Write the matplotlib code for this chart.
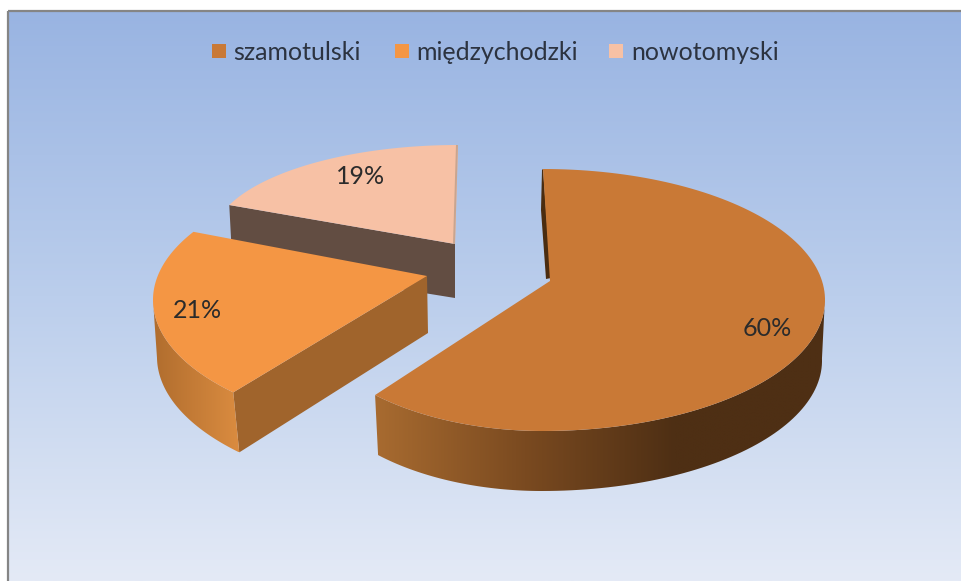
import numpy as np
import matplotlib
matplotlib.use("Agg")
import matplotlib.pyplot as plt
from matplotlib.colors import LinearSegmentedColormap
from matplotlib.patches import Polygon, Rectangle

plt.rcParams['font.family'] = ['Lato', 'DejaVu Sans']

names = ["szamotulski", "międzychodzki", "nowotomyski"]
values = [60, 21, 19]
top_colors = ["#C97936", "#F49644", "#F7C1A5"]

W, H = 962, 581
DEPTH = 60

fig = plt.figure(figsize=(W / 100, H / 100), dpi=100)
ax = fig.add_axes([0, 0, 1, 1])
ax.axis("off")


def fill_gradient(poly_pts, stops, x0, x1, vertical=False, zorder=1):
    # gradient image clipped to the polygon
    cmap = LinearSegmentedColormap.from_list("g", stops)
    grad = np.linspace(0, 1, 256)
    grad = grad.reshape(-1, 1) if vertical else grad.reshape(1, -1)
    patch = Polygon(poly_pts, closed=True, transform=ax.transData, fc="none", ec="none")
    ax.add_patch(patch)
    ys = poly_pts[:, 1]
    ax.imshow(grad, cmap=cmap, extent=[x0, x1, ys.max(), ys.min()], aspect="auto",
              clip_path=patch, zorder=zorder, interpolation="bilinear")


def arc(cx, cy, rx, ry, t0, t1, n=120):
    t = np.radians(np.linspace(t0, t1, n))
    return np.column_stack([cx + rx * np.sin(t), cy - ry * np.cos(t)])


def down(pts, d=DEPTH):
    return pts + np.array([0, d])


# background panel
bg = np.array([[9, 12], [W, 12], [W, H], [9, H]], dtype=float)
fill_gradient(bg, ["#99B4E2", "#BBCEEC", "#E4EAF6"], 9, W, vertical=True, zorder=0)
ax.add_patch(Rectangle((8, 11), W, H, fc="none", ec="#858585", lw=1.6, zorder=0.5))

# pie angles come from the shares
spans = [v * 3.6 for v in values]

# nowotomyski (back slice)
apex3 = np.array([455, 244])
rim3 = arc(458, 240, 246, 95, 360 - spans[2], 360)
side3 = np.array([rim3[0], apex3, apex3 + [0, 54], rim3[0] + [3, 57]])
ax.add_patch(Polygon(side3, fc="#624D42", ec="none", zorder=2))
ax.add_patch(Polygon(np.vstack([rim3, apex3]), fc=top_colors[2], ec="none", zorder=3))
ax.add_patch(Polygon([[458, 145], [455, 244], [453, 244], [456, 145]], fc="#C9A58F", ec="none", zorder=3.1))

# miedzychodzki (left slice)
apex2 = np.array([427, 276])
rim2 = arc(439, 300, 286, 133, 226, 226 + spans[1] * 0.99)
low2 = np.array([rim2[0], apex2, apex2 + [1, 57], rim2[0] + [6, 60]])
ax.add_patch(Polygon(low2, fc="#A0642C", ec="none", zorder=4))
wall2 = rim2[rim2[:, 0] <= rim2[0, 0]]
wall2 = wall2[: int(np.argmin(wall2[:, 0])) + 1]
wall2_low = down(wall2, 58) + np.linspace([6, 2], [4, 0], len(wall2))
fill_gradient(np.vstack([wall2, wall2_low[::-1]]), ["#B06D2E", "#DB8C40"], 153, 240, zorder=4)
ax.add_patch(Polygon(np.vstack([rim2, apex2]), fc=top_colors[1], ec="none", zorder=5))

# szamotulski (front slice), left part of the rim is flatter in the reference
apex1 = np.array([550, 281])
rim1 = np.vstack([arc(543, 300, 282, 131, 0, 180),
                  arc(543, 300, 244, 131, 180, 180 + (spans[0] - 180) * 1.208)])
wall1 = rim1[np.argmax(rim1[:, 0]):]
wall1_low = down(wall1) + np.linspace([-3, 0], [3, 0], len(wall1))
fill_gradient(np.vstack([wall1, wall1_low[::-1]]),
              ["#A86B30", "#7A4A20", "#4E2F14", "#4E2F14"], 375, 825, zorder=6)
sliver = np.array([[542, 170], [541, 210], [546, 279], [551, 278], [543, 169]])
ax.add_patch(Polygon(sliver, fc="#4A2C10", ec="none", zorder=6))
ax.add_patch(Polygon(np.vstack([rim1, apex1]), fc=top_colors[0], ec="none", zorder=7))

# percent labels
label_xy = [(767, 328), (197, 310), (361, 176)]
for v, (x, y) in zip(values, label_xy):
    ax.text(x, y, f"{v}%", ha="center", va="center", fontsize=18, color="#2B2B2B", zorder=8)

# legend
swatch_x = [212, 395, 609]
text_x = [233, 416, 631]
for name, col, sx, tx in zip(names, top_colors, swatch_x, text_x):
    ax.add_patch(Rectangle((sx, 44), 14, 14, fc=col, ec="none", zorder=8))
    ax.text(tx, 52, name, ha="left", va="center", fontsize=18, color="#2C3340", zorder=8)

ax.set_xlim(0, W)
ax.set_ylim(H, 0)
fig.savefig("out.png", dpi=100, facecolor="white")
